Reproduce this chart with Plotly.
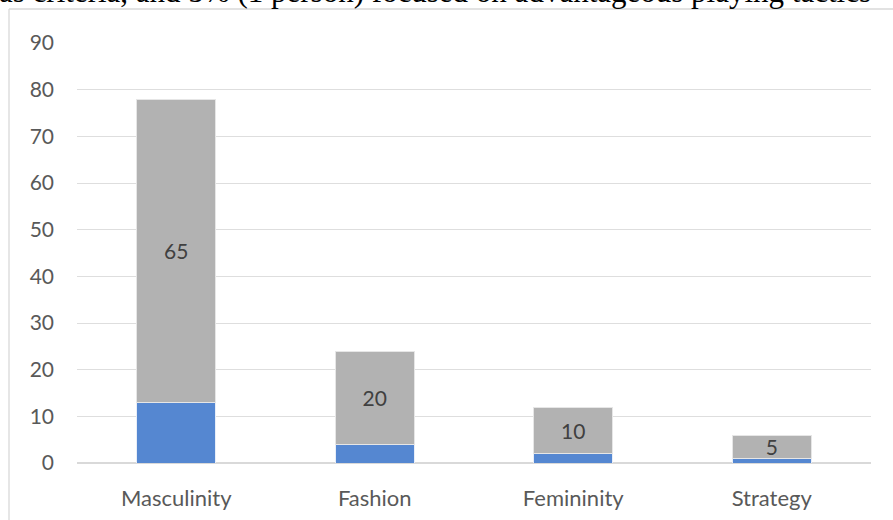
import plotly.graph_objects as go

categories = ["Masculinity", "Fashion", "Femininity", "Strategy"]
blue_values = [13, 4, 2, 1]
gray_values = [65, 20, 10, 5]
y_ticks = [0, 10, 20, 30, 40, 50, 60, 70, 80, 90]
caption = "as criteria, and 5% (1 person) focused on advantageous playing tactics"

W, H = 893, 520
L, R, T, B = 77, 22, 43, 57
pw, ph = W - L - R, H - T - B

def px_x(p):
    return (p - L) / pw

def px_y(p):
    return (H - B - p) / ph

fig = go.Figure()
fig.add_trace(go.Bar(
    x=categories, y=blue_values, marker=dict(color="#5587d1", line=dict(color="#e8eef8", width=1)),
    hoverinfo="skip", showlegend=False,
))
fig.add_trace(go.Bar(
    x=categories, y=gray_values, marker=dict(color="#b2b2b2", line=dict(color="#e6e6e6", width=1)),
    text=[str(v) for v in gray_values], textposition="inside", insidetextanchor="middle",
    textfont=dict(family="Lato, Carlito, sans-serif", size=21, color="#404040"),
    textangle=0, constraintext="none",
    hoverinfo="skip", showlegend=False,
))

fig.update_layout(
    barmode="stack",
    bargap=0.6,
    width=W, height=H,
    margin=dict(l=L, r=R, t=T, b=B),
    paper_bgcolor="white", plot_bgcolor="white",
    font=dict(family="Lato, Carlito, sans-serif", size=21, color="#595959"),
    xaxis=dict(showgrid=False, showline=False, ticks="", automargin=False, ticklabelstandoff=20,
               tickfont=dict(size=22, color="#595959")),
    yaxis=dict(range=[0, 90], tickvals=y_ticks, showgrid=True, gridcolor="#dedede", gridwidth=1.3,
               zeroline=True, zerolinecolor="#d9d9d9", zerolinewidth=1.5, automargin=False,
               showline=False, ticks="", ticklabelstandoff=22,
               tickfont=dict(size=21, color="#595959")),
    shapes=[
        dict(type="line", xref="paper", yref="paper", x0=px_x(9), x1=px_x(9), y0=px_y(9), y1=px_y(530),
             line=dict(color="#d9d9d9", width=1.3)),
        dict(type="line", xref="paper", yref="paper", x0=px_x(9), x1=px_x(900), y0=px_y(9), y1=px_y(9),
             line=dict(color="#d9d9d9", width=1.3)),
    ],
    annotations=[
        dict(text=caption, xref="paper", yref="paper", x=px_x(-3), y=px_y(-8), xanchor="left", yanchor="middle",
             showarrow=False, font=dict(family="Liberation Serif, Times New Roman, serif", size=31, color="#000000")),
    ],
)

fig.write_html("out.html", config={"displayModeBar": False},
               post_script="document.body.style.margin='0';")
